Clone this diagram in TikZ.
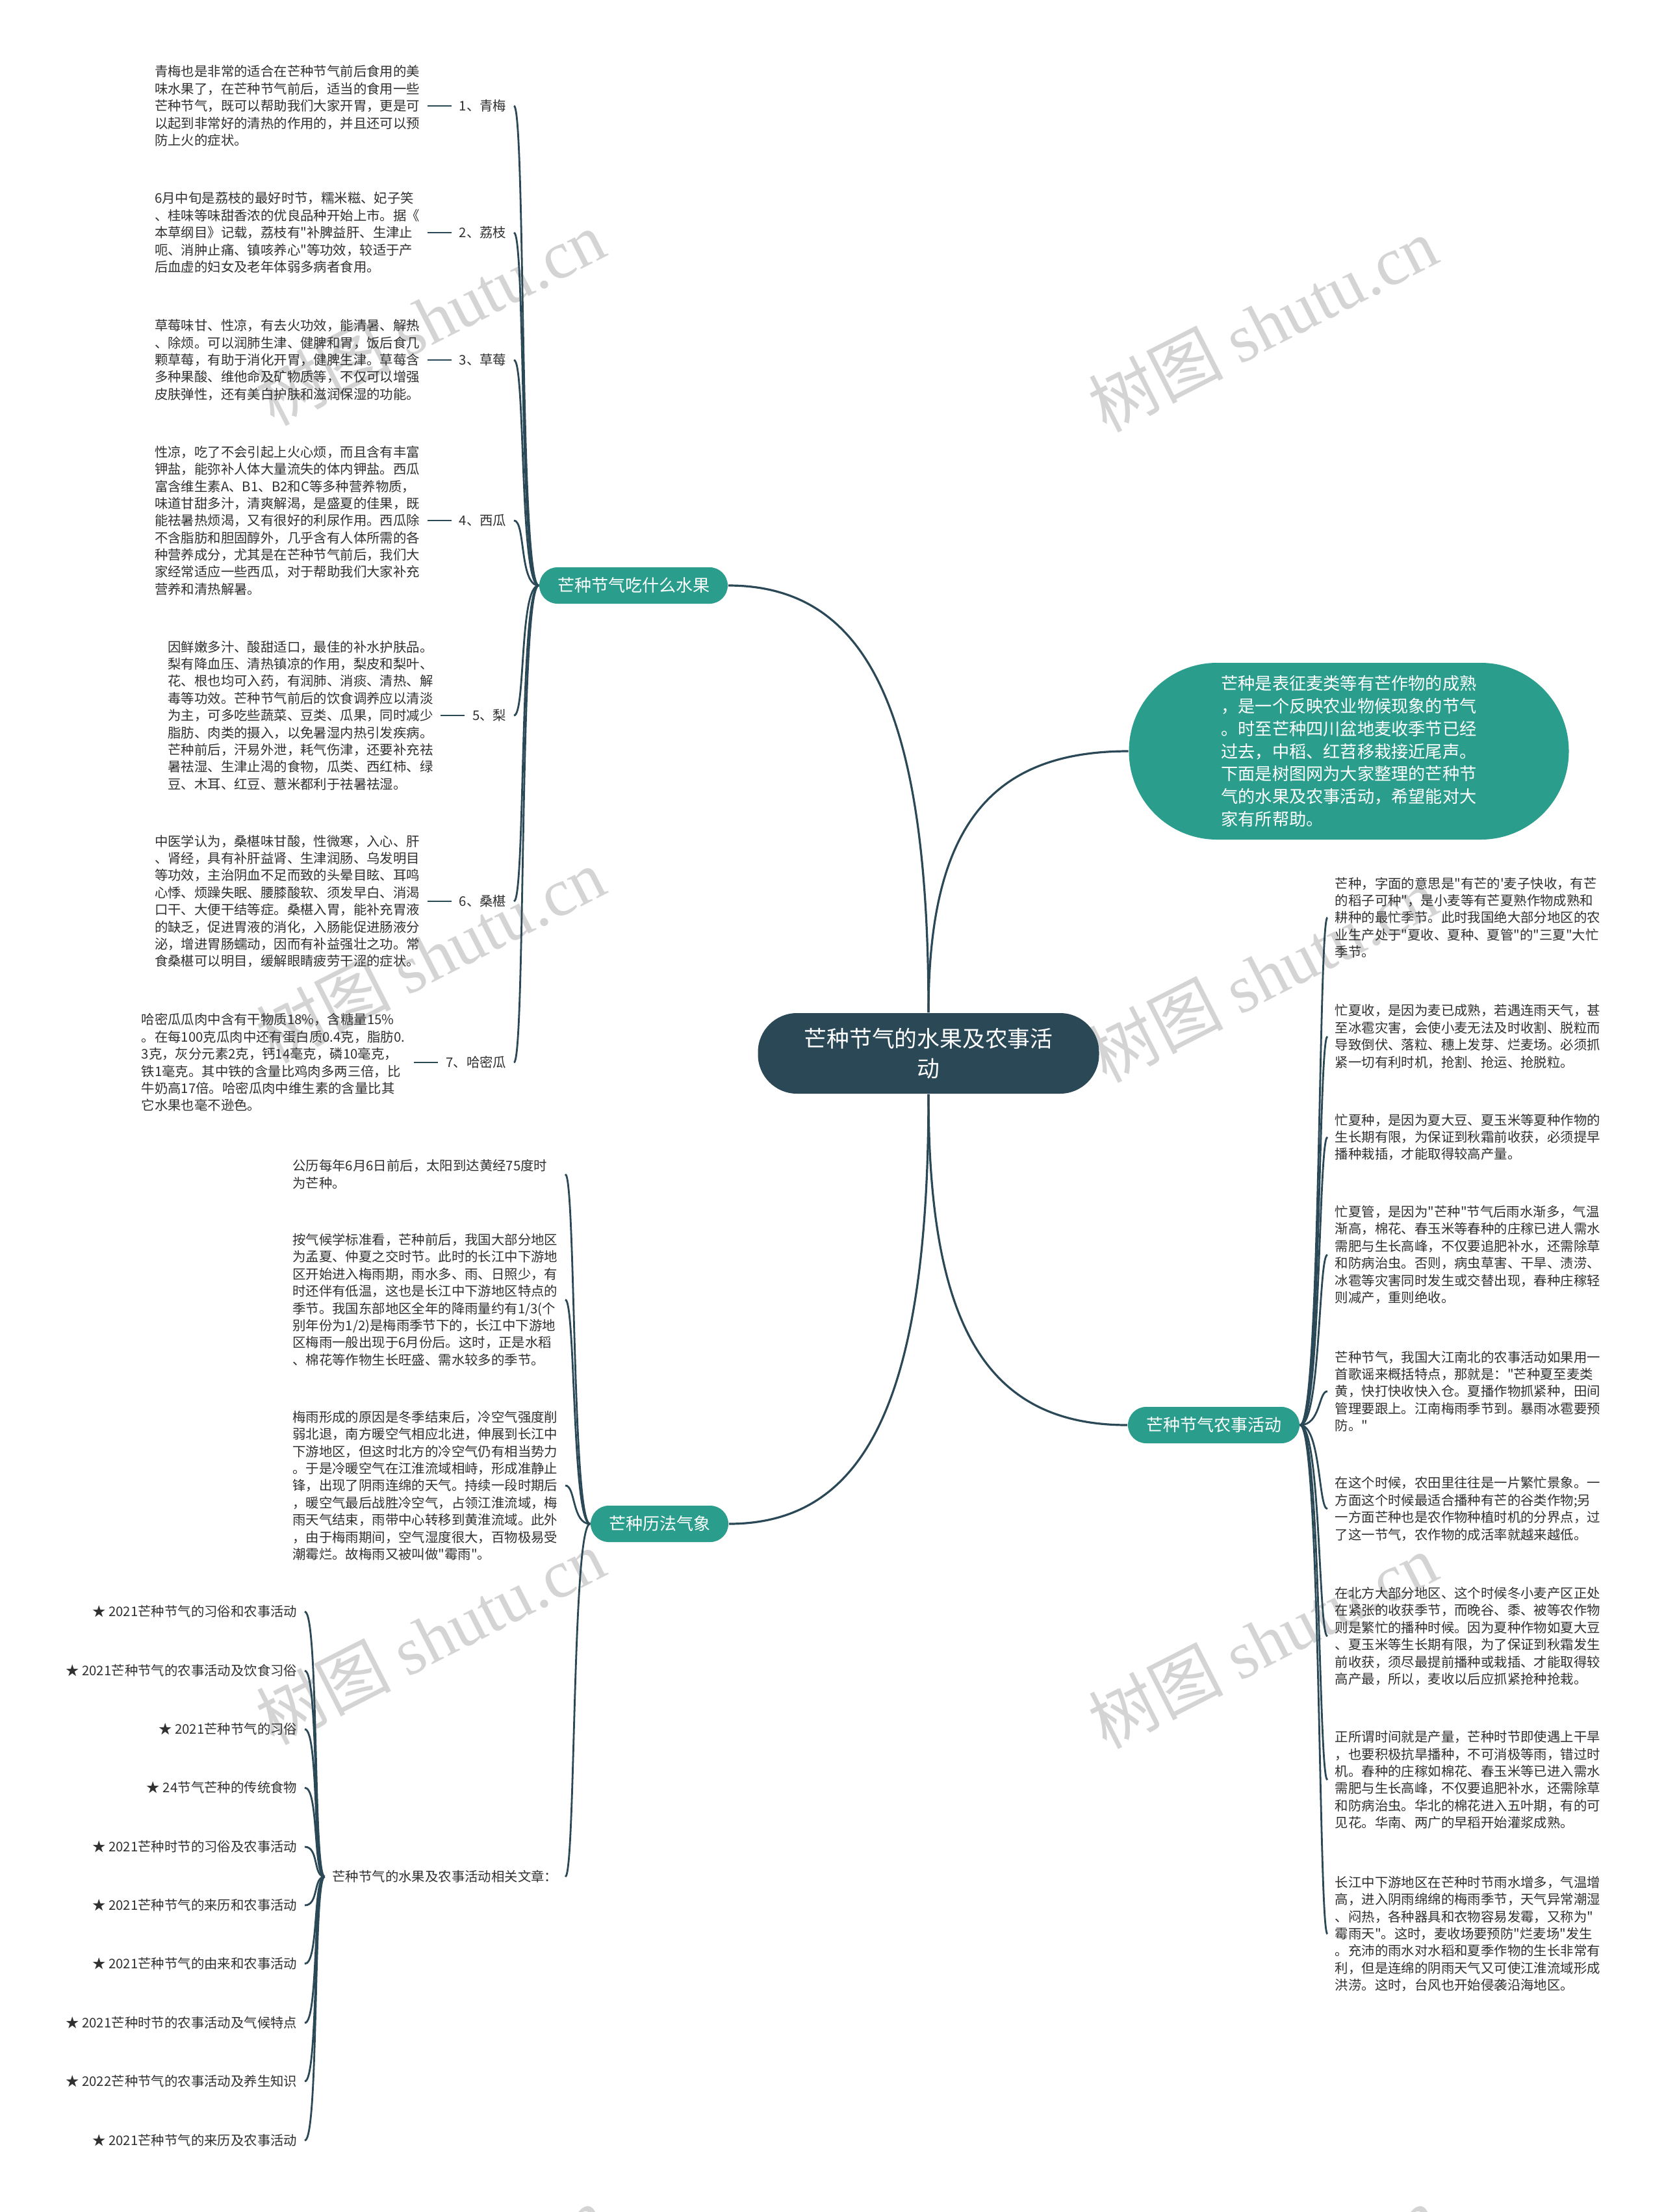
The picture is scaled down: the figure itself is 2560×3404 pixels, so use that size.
\documentclass[tikz,border=0pt]{standalone}
\usepackage{fontspec}
\setmainfont{Noto Sans CJK SC}[Ligatures=TeXOff]
\newfontfamily\markserif{Liberation Serif}
\usepackage{xcolor}
\usepackage{tikz}
\usetikzlibrary{positioning}
\definecolor{MapSlate}{RGB}{42,72,86}
\definecolor{MapTeal}{RGB}{42,157,140}
\definecolor{MapText}{RGB}{48,48,48}
\definecolor{MapMark}{RGB}{212,212,212}

\begin{document}
\begin{tikzpicture}[x=0.25pt, y=-0.25pt,
          root/.style={rectangle, rounded corners=15pt, fill=MapSlate,
                       text=white, minimum width=131.25pt, minimum height=31pt,
                       font=\fontsize{8.7}{11.4}\selectfont, align=center},
          branch/.style={rectangle, rounded corners=7pt, fill=MapTeal,
                         text=white, minimum height=14pt, inner xsep=7pt,
                         font=\fontsize{6.5}{8}\selectfont},
          intro/.style={rectangle, rounded corners=33.9pt, fill=MapTeal,
                        text=white, minimum width=169.25pt, minimum height=68pt,
                        font=\fontsize{6.55}{8.7}\selectfont, align=left},
          leaf/.style={inner sep=2.75pt, text=MapText,
                       font=\fontsize{5.1}{6.6}\selectfont},
          note/.style={inner sep=2.75pt, text=MapText, align=left,
                       text width=102pt, font=\fontsize{5.1}{6.6}\selectfont},
          wmark/.style={rotate=27, text=MapMark, font=\fontsize{26}{30}\selectfont},
          trunk/.style={MapSlate, line width=0.8pt},
          link/.style={MapSlate, line width=0.7pt}
        ]
        \useasboundingbox (0,0) rectangle (2560,3404);
        \fill[white] (0,0) rectangle (2560,3404);

        % Watermarks
        \begin{scope}
          \clip (0,0) rectangle (2560,3404);
          \node[wmark] (w1) at (662,489)   {树图 {\markserif shutu.cn}};
          \node[wmark] (w2) at (1943,499)  {树图 {\markserif shutu.cn}};
          \node[wmark] (w3) at (662,1470)  {树图 {\markserif shutu.cn}};
          \node[wmark] (w4) at (1943,1500) {树图 {\markserif shutu.cn}};
          \node[wmark] (w5) at (662,2519)  {树图 {\markserif shutu.cn}};
          \node[wmark] (w6) at (1943,2525) {树图 {\markserif shutu.cn}};
          \node[wmark] (w7) at (662,3528)  {树图 {\markserif shutu.cn}};
          \node[wmark] (w8) at (1943,3528) {树图 {\markserif shutu.cn}};
        \end{scope}

        % Root and branches
        \node[root] (root) at (1429,1621) {芒种节气的水果及农事活\\动};
        \node[branch] (fruit) at (975,901) {芒种节气吃什么水果};
        \node[intro] (intro) at (2076,1156)
              {芒种是表征麦类等有芒作物的成熟\\，是一个反映农业物候现象的节气\\。时至芒种四川盆地麦收季节已经\\过去，中稻、红苕移栽接近尾声。\\下面是树图网为大家整理的芒种节\\气的水果及农事活动，希望能对大\\家有所帮助。};
        \node[branch] (farm) at (1868,2193) {芒种节气农事活动};
        \node[branch] (climate) at (1015,2345) {芒种历法气象};

        % Fruits
        \node[leaf, anchor=east] (f1) at (791,163) {1、青梅};
        \node[note, left=9.25pt of f1] (f1txt)
              {青梅也是非常的适合在芒种节气前后食用的美\\味水果了，在芒种节气前后，适当的食用一些\\芒种节气，既可以帮助我们大家开胃，更是可\\以起到非常好的清热的作用的，并且还可以预\\防上火的症状。};
        \node[leaf, anchor=east] (f2) at (791,358) {2、荔枝};
        \node[note, left=9.25pt of f2] (f2txt)
              {6月中旬是荔枝的最好时节，糯米糍、妃子笑\\、桂味等味甜香浓的优良品种开始上市。据《\\本草纲目》记载，荔枝有"补脾益肝、生津止\\呃、消肿止痛、镇咳养心"等功效，较适于产\\后血虚的妇女及老年体弱多病者食用。};
        \node[leaf, anchor=east] (f3) at (791,554) {3、草莓};
        \node[note, left=9.25pt of f3] (f3txt)
              {草莓味甘、性凉，有去火功效，能清暑、解热\\、除烦。可以润肺生津、健脾和胃，饭后食几\\颗草莓，有助于消化开胃，健脾生津。草莓含\\多种果酸、维他命及矿物质等，不仅可以增强\\皮肤弹性，还有美白护肤和滋润保湿的功能。};
        \node[leaf, anchor=east] (f4) at (791,801) {4、西瓜};
        \node[note, left=9.25pt of f4] (f4txt)
              {性凉，吃了不会引起上火心烦，而且含有丰富\\钾盐，能弥补人体大量流失的体内钾盐。西瓜\\富含维生素A、B1、B2和C等多种营养物质，\\味道甘甜多汁，清爽解渴，是盛夏的佳果，既\\能祛暑热烦渴，又有很好的利尿作用。西瓜除\\不含脂肪和胆固醇外，几乎含有人体所需的各\\种营养成分，尤其是在芒种节气前后，我们大\\家经常适应一些西瓜，对于帮助我们大家补充\\营养和清热解暑。};
        \node[leaf, anchor=east] (f5) at (791,1101) {5、梨};
        \node[note, left=9.25pt of f5] (f5txt)
              {因鲜嫩多汁、酸甜适口，最佳的补水护肤品。\\梨有降血压、清热镇凉的作用，梨皮和梨叶、\\花、根也均可入药，有润肺、消痰、清热、解\\毒等功效。芒种节气前后的饮食调养应以清淡\\为主，可多吃些蔬菜、豆类、瓜果，同时减少\\脂肪、肉类的摄入，以免暑湿内热引发疾病。\\芒种前后，汗易外泄，耗气伤津，还要补充祛\\暑祛湿、生津止渴的食物，瓜类、西红柿、绿\\豆、木耳、红豆、薏米都利于祛暑祛湿。};
        \node[leaf, anchor=east] (f6) at (791,1387) {6、桑椹};
        \node[note, left=9.25pt of f6] (f6txt)
              {中医学认为，桑椹味甘酸，性微寒，入心、肝\\、肾经，具有补肝益肾、生津润肠、乌发明目\\等功效，主治阴血不足而致的头晕目眩、耳鸣\\心悸、烦躁失眠、腰膝酸软、须发早白、消渴\\口干、大便干结等症。桑椹入胃，能补充胃液\\的缺乏，促进胃液的消化，入肠能促进肠液分\\泌，增进胃肠蠕动，因而有补益强壮之功。常\\食桑椹可以明目，缓解眼睛疲劳干涩的症状。};
        \node[leaf, anchor=east] (f7) at (791,1635) {7、哈密瓜};
        \node[note, left=9.25pt of f7] (f7txt)
              {哈密瓜瓜肉中含有干物质18\%，含糖量15\%\\。在每100克瓜肉中还有蛋白质0.4克，脂肪0.\\3克，灰分元素2克，钙14毫克，磷10毫克，\\铁1毫克。其中铁的含量比鸡肉多两三倍，比\\牛奶高17倍。哈密瓜肉中维生素的含量比其\\它水果也毫不逊色。};

        % Farm work
        \node[note, anchor=west] (a1) at (2043,1412)
              {芒种，字面的意思是"有芒的'麦子快收，有芒\\的稻子可种"，是小麦等有芒夏熟作物成熟和\\耕种的最忙季节。此时我国绝大部分地区的农\\业生产处于"夏收、夏种、夏管"的"三夏"大忙\\季节。};
        \node[note, anchor=west] (a2) at (2043,1595)
              {忙夏收，是因为麦已成熟，若遇连雨天气，甚\\至冰雹灾害，会使小麦无法及时收割、脱粒而\\导致倒伏、落粒、穗上发芽、烂麦场。必须抓\\紧一切有利时机，抢割、抢运、抢脱粒。};
        \node[note, anchor=west] (a3) at (2043,1750)
              {忙夏种，是因为夏大豆、夏玉米等夏种作物的\\生长期有限，为保证到秋霜前收获，必须提早\\播种栽插，才能取得较高产量。};
        \node[note, anchor=west] (a4) at (2043,1931)
              {忙夏管，是因为"芒种"节气后雨水渐多，气温\\渐高，棉花、春玉米等春种的庄稼已进人需水\\需肥与生长高峰，不仅要追肥补水，还需除草\\和防病治虫。否则，病虫草害、干旱、渍涝、\\冰雹等灾害同时发生或交替出现，春种庄稼轻\\则减产，重则绝收。};
        \node[note, anchor=west] (a5) at (2043,2141)
              {芒种节气，我国大江南北的农事活动如果用一\\首歌谣来概括特点，那就是："芒种夏至麦类\\黄，快打快收快入仓。夏播作物抓紧种，田间\\管理要跟上。江南梅雨季节到。暴雨冰雹要预\\防。"};
        \node[note, anchor=west] (a6) at (2043,2322)
              {在这个时候，农田里往往是一片繁忙景象。一\\方面这个时候最适合播种有芒的谷类作物;另\\一方面芒种也是农作物种植时机的分界点，过\\了这一节气，农作物的成活率就越来越低。};
        \node[note, anchor=west] (a7) at (2043,2518)
              {在北方大部分地区、这个时候冬小麦产区正处\\在紧张的收获季节，而晚谷、黍、被等农作物\\则是繁忙的播种时候。因为夏种作物如夏大豆\\、夏玉米等生长期有限，为了保证到秋霜发生\\前收获，须尽最提前播种或栽插、才能取得较\\高产最，所以，麦收以后应抓紧抢种抢栽。};
        \node[note, anchor=west] (a8) at (2043,2739)
              {正所谓时间就是产量，芒种时节即使遇上干旱\\，也要积极抗旱播种，不可消极等雨，错过时\\机。春种的庄稼如棉花、春玉米等已进入需水\\需肥与生长高峰，不仅要追肥补水，还需除草\\和防病治虫。华北的棉花进入五叶期，有的可\\见花。华南、两广的早稻开始灌浆成熟。};
        \node[note, anchor=west] (a9) at (2043,2976)
              {长江中下游地区在芒种时节雨水增多，气温增\\高，进入阴雨绵绵的梅雨季节，天气异常潮湿\\、闷热，各种器具和衣物容易发霉，又称为"\\霉雨天"。这时，麦收场要预防"烂麦场"发生\\。充沛的雨水对水稻和夏季作物的生长非常有\\利，但是连绵的阴雨天气又可使江淮流域形成\\洪涝。这时，台风也开始侵袭沿海地区。};

        % Calendar and climate
        \node[note, anchor=east] (c1) at (870,1807)
              {公历每年6月6日前后，太阳到达黄经75度时\\为芒种。};
        \node[note, anchor=east] (c2) at (870,2000)
              {按气候学标准看，芒种前后，我国大部分地区\\为孟夏、仲夏之交时节。此时的长江中下游地\\区开始进入梅雨期，雨水多、雨、日照少，有\\时还伴有低温，这也是长江中下游地区特点的\\季节。我国东部地区全年的降雨量约有1/3(个\\别年份为1/2)是梅雨季节下的，长江中下游地\\区梅雨一般出现于6月份后。这时，正是水稻\\、棉花等作物生长旺盛、需水较多的季节。};
        \node[note, anchor=east] (c3) at (870,2286)
              {梅雨形成的原因是冬季结束后，冷空气强度削\\弱北退，南方暖空气相应北进，伸展到长江中\\下游地区，但这时北方的冷空气仍有相当势力\\。于是冷暖空气在江淮流域相峙，形成准静止\\锋，出现了阴雨连绵的天气。持续一段时期后\\，暖空气最后战胜冷空气，占领江淮流域，梅\\雨天气结束，雨带中心转移到黄淮流域。此外\\，由于梅雨期间，空气湿度很大，百物极易受\\潮霉烂。故梅雨又被叫做"霉雨"。};
        \node[leaf, anchor=east] (rel) at (870,2888) {芒种节气的水果及农事活动相关文章：};

        % Related articles
        \node[leaf, anchor=east] (s1)  at (469,2480) {★ 2021芒种节气的习俗和农事活动};
        \node[leaf, anchor=east] (s2)  at (469,2571) {★ 2021芒种节气的农事活动及饮食习俗};
        \node[leaf, anchor=east] (s3)  at (469,2661) {★ 2021芒种节气的习俗};
        \node[leaf, anchor=east] (s4)  at (469,2751) {★ 24节气芒种的传统食物};
        \node[leaf, anchor=east] (s5)  at (469,2842) {★ 2021芒种时节的习俗及农事活动};
        \node[leaf, anchor=east] (s6)  at (469,2932) {★ 2021芒种节气的来历和农事活动};
        \node[leaf, anchor=east] (s7)  at (469,3022) {★ 2021芒种节气的由来和农事活动};
        \node[leaf, anchor=east] (s8)  at (469,3113) {★ 2021芒种时节的农事活动及气候特点};
        \node[leaf, anchor=east] (s9)  at (469,3203) {★ 2022芒种节气的农事活动及养生知识};
        \node[leaf, anchor=east] (s10) at (469,3294) {★ 2021芒种节气的来历及农事活动};

        % Trunk curves
        \draw[trunk] (root.north) .. controls +(0,-460) and +(216,0) .. (fruit.east);
        \draw[trunk] (root.north) .. controls +(0,-281) and +(-216,0) .. (intro.west);
        \draw[trunk] (root.south) .. controls +(0,357) and +(-217,0) .. (farm.west);
        \draw[trunk] (root.south) .. controls +(0,463) and +(214,0) .. (climate.east);

        % Fruit links
        \foreach \n in {f1,f2,f3,f4,f5,f6,f7} {
          \draw[link] (fruit.west) .. controls +(-30,0) and +(18,0) .. (\n.east);
          \draw[link] (\n txt) -- (\n);
        }

        % Farm links
        \foreach \n in {a1,a2,a3,a4,a5,a6,a7,a8,a9}
          \draw[link] (farm.east) .. controls +(32,0) and +(-14,0) .. (\n.west);

        % Climate links
        \foreach \n in {c1,c2,c3,rel}
          \draw[link] (climate.west) .. controls +(-28,0) and +(16,0) .. (\n.east);
        \foreach \n in {s1,s2,s3,s4,s5,s6,s7,s8,s9,s10}
          \draw[link] (rel.west) .. controls +(-18,0) and +(22,0) .. (\n.east);
      \end{tikzpicture}
\end{document}
